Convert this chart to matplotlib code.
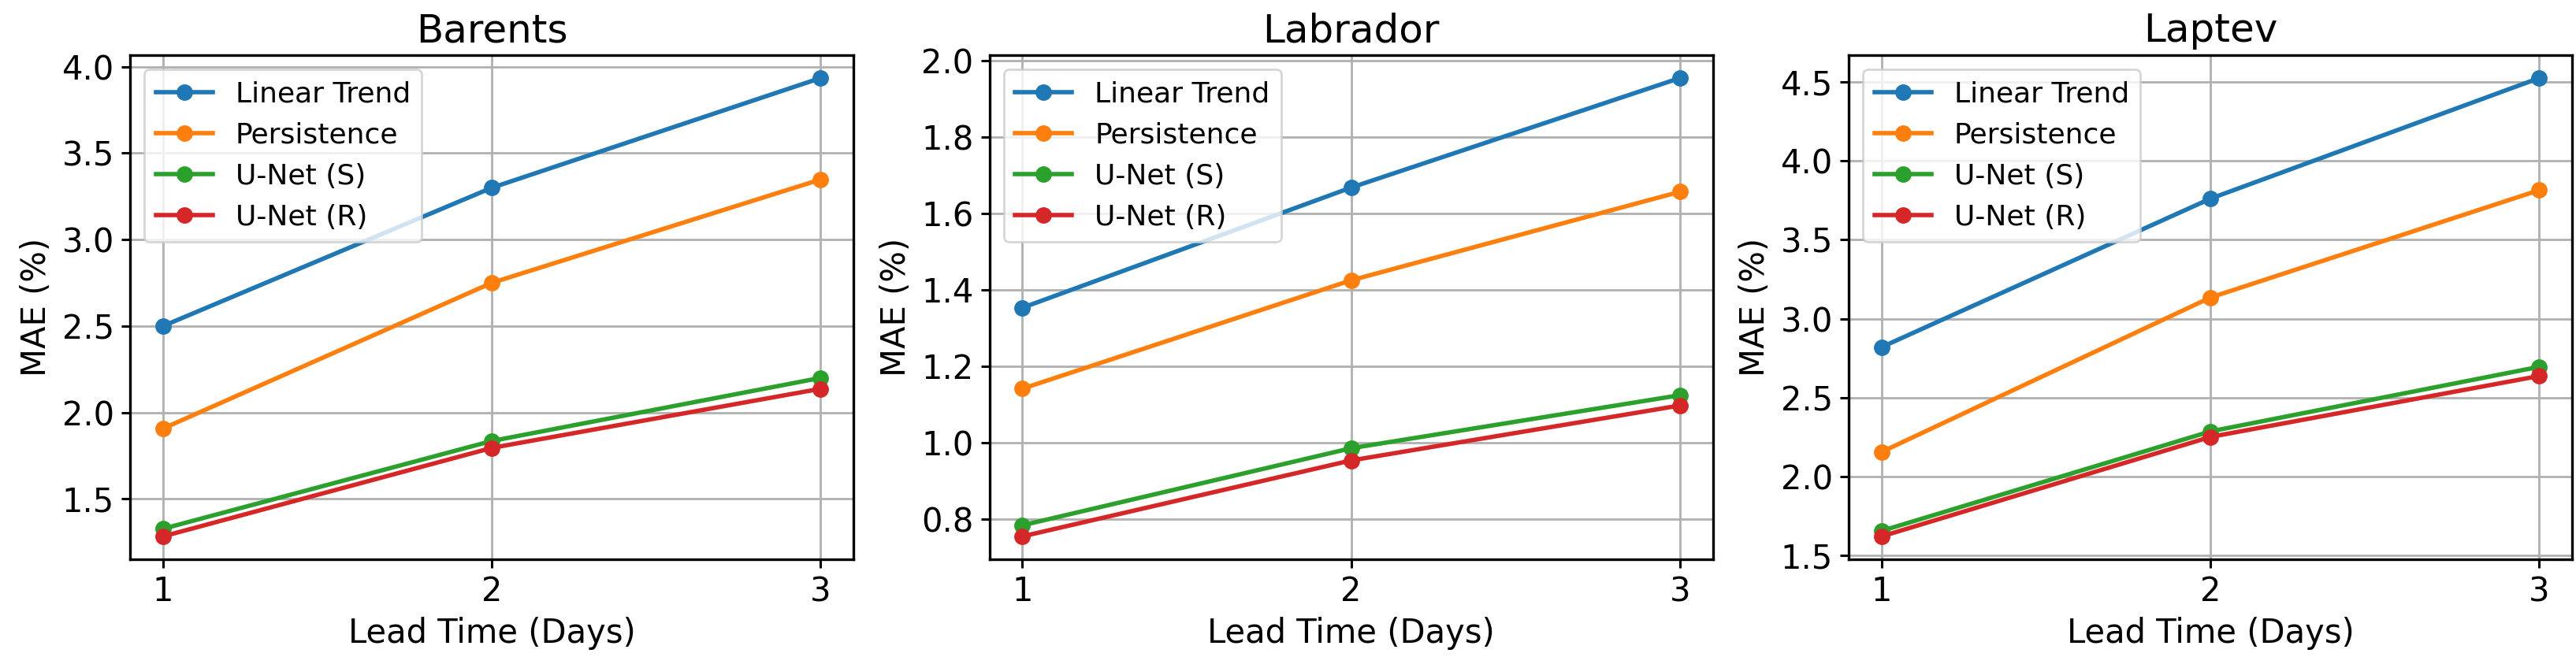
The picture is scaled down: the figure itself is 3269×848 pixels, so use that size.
import matplotlib
matplotlib.use("Agg")
import matplotlib.pyplot as plt

lead_days = [1, 2, 3]
regions = ["Barents", "Labrador", "Laptev"]
methods = ["Linear Trend", "Persistence", "U-Net (S)", "U-Net (R)"]
colors = ["#1f77b4", "#ff7f0e", "#2ca02c", "#d62728"]

barents_linear = [2.50, 3.30, 3.935]
barents_persistence = [1.907, 2.75, 3.348]
barents_unet_s = [1.327, 1.835, 2.20]
barents_unet_r = [1.283, 1.795, 2.137]

labrador_linear = [1.353, 1.668, 1.955]
labrador_persistence = [1.141, 1.425, 1.657]
labrador_unet_s = [0.783, 0.985, 1.124]
labrador_unet_r = [0.754, 0.953, 1.097]

laptev_linear = [2.82, 3.76, 4.524]
laptev_persistence = [2.156, 3.134, 3.814]
laptev_unet_s = [1.656, 2.286, 2.695]
laptev_unet_r = [1.621, 2.251, 2.637]

data = {
    "Barents": [barents_linear, barents_persistence, barents_unet_s, barents_unet_r],
    "Labrador": [labrador_linear, labrador_persistence, labrador_unet_s, labrador_unet_r],
    "Laptev": [laptev_linear, laptev_persistence, laptev_unet_s, laptev_unet_r],
}

fig, axes = plt.subplots(1, 3, figsize=(3269 / 200, 848 / 200), dpi=200)
fig.subplots_adjust(left=0.0505, right=0.9985, top=0.9175, bottom=0.1627, wspace=0.188)

for ax, region in zip(axes, regions):
    for name, vals, c in zip(methods, data[region], colors):
        ax.plot(lead_days, vals, marker="o", color=c, label=name, lw=2, markersize=6.5)
    ax.set_title(region, fontsize=18)
    ax.set_xlabel("Lead Time (Days)", fontsize=15)
    ax.set_ylabel("MAE (%)", fontsize=15)
    ax.set_xticks(lead_days)
    ax.tick_params(labelsize=15, width=1.1, length=3.8)
    ax.grid(True, lw=1.0)
    for s in ax.spines.values():
        s.set_linewidth(1.2)
    ax.legend(loc="upper left", fontsize=13)

fig.savefig("out.png", dpi=200)
